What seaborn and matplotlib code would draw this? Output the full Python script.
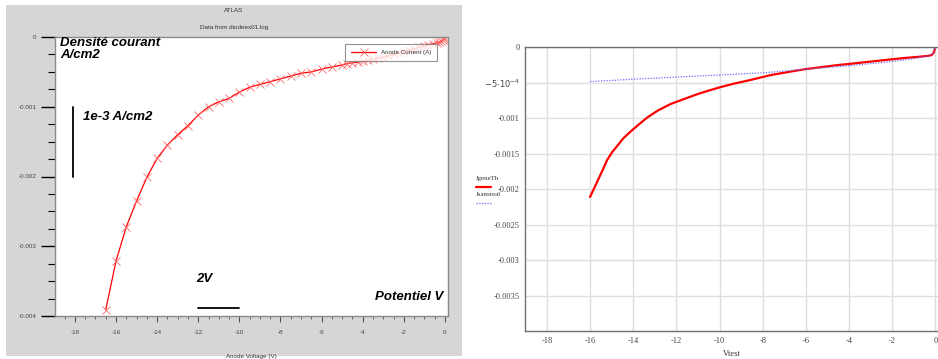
import numpy as np
import pandas as pd
import matplotlib
matplotlib.use("Agg")
import matplotlib.pyplot as plt
import seaborn as sns
from matplotlib.patches import Rectangle
from matplotlib.lines import Line2D
from matplotlib.ticker import MultipleLocator, FixedLocator, FixedFormatter

# left panel: ATLAS simulation, anode current vs anode voltage
atlas_v = [-16.5, -16.0, -15.5, -15.0, -14.5, -14.0, -13.5, -13.0, -12.5, -12.0,
           -11.5, -11.0, -10.5, -10.0, -9.5, -9.0, -8.5, -8.0, -7.5, -7.0,
           -6.5, -6.0, -5.5, -5.0, -4.75, -4.5, -4.25, -4.0, -3.75, -3.5,
           -3.25, -3.0, -2.75, -2.5, -2.25, -2.0, -1.75, -1.5, -1.25, -1.0,
           -0.8, -0.6, -0.4, -0.3, -0.2, -0.1, -0.05, 0.0]
atlas_i = [-0.00391, -0.00321, -0.00272, -0.00235, -0.00201, -0.00174, -0.00155, -0.00140, -0.00127, -0.00112,
           -0.00100, -0.00093, -0.00088, -0.00079, -0.00072, -0.00068, -0.00064, -0.00060, -0.00056, -0.00052,
           -0.00050, -0.00046, -0.00043, -0.00040, -0.00038, -0.00037, -0.00036, -0.00035, -0.00033, -0.00032,
           -0.00030, -0.00029, -0.00027, -0.00025, -0.00023, -0.00021, -0.00019, -0.00017, -0.00015, -0.00013,
           -0.00011, -0.00010, -0.00008, -0.00007, -0.00006, -0.00004, -0.00003, -0.00001]

# right panel: model curves
vtest = [-16.0, -15.8, -15.63, -15.4, -15.21, -14.98, -14.74, -14.45, -14.13, -13.75, -13.35, -12.85,
         -12.27, -11.65, -11.02, -10.5, -9.94, -9.3, -8.7, -8.15, -7.61, -6.85, -6.07, -5.3, -4.51,
         -3.7, -2.96, -2.2, -1.41, -0.8, -0.33, -0.18, -0.1, -0.05, -0.02, 0.0]
jgene_th = [-0.00211, -0.00198, -0.00187, -0.00172, -0.00159, -0.00148, -0.00139, -0.00128, -0.00119,
            -0.00109, -0.00099, -0.00089, -0.00080, -0.00073, -0.00066, -0.00061, -0.00056, -0.00051,
            -0.00047, -0.00043, -0.00039, -0.00035, -0.00031, -0.00028, -0.00025, -0.000225, -0.00020,
            -0.000175, -0.00015, -0.000135, -0.00012, -0.00011, -0.000085, -0.00005, -0.00001, 0.0]
vtest2 = [-16.0, -14.0, -12.0, -10.0, -8.0, -6.0, -4.0, -2.0, -1.0, -0.33, -0.1, -0.02, 0.0]
jsans = [-0.000484, -0.00045, -0.00042, -0.00039, -0.00036, -0.00031, -0.00026, -0.00020, -0.00016, -0.00012,
         -0.000085, -0.00001, 0.0]

left_df = pd.DataFrame({"v": atlas_v, "i": atlas_i})
right_df = pd.DataFrame({"v": vtest, "j": jgene_th})
right_df2 = pd.DataFrame({"v": vtest2, "j": jsans})

sns.set_style("white")
plt.rcParams['font.family'] = ['Liberation Sans', 'DejaVu Sans']
plt.rcParams['axes.unicode_minus'] = False

fig = plt.figure(figsize=(9.38, 3.59), dpi=100)
W, H = 938, 359

def fx(px):
    return px / W

def fy(py):
    return 1 - py / H

# gray window behind the left chart
fig.add_artist(Rectangle((fx(6), fy(356)), fx(456), (356 - 5) / H, transform=fig.transFigure,
                         facecolor="#d6d6d6", edgecolor="none", zorder=0))

# ---------------- left chart ----------------
ax1 = fig.add_axes([fx(55), fy(316), fx(448 - 55), (316 - 37) / H])
ax1.set_facecolor("white")
sns.lineplot(data=left_df, x="v", y="i", ax=ax1, color="red", lw=0.9, marker="x",
             markersize=5.5, markeredgecolor="#ff6a6a", markeredgewidth=0.6,
             label="Anode Current (A)", sort=False)
ax1.set_xlim(-18.97, 0.15)
ax1.set_ylim(-0.004, 0)
ax1.xaxis.set_major_locator(MultipleLocator(2))
ax1.xaxis.set_minor_locator(MultipleLocator(0.5))
ax1.yaxis.set_major_locator(MultipleLocator(0.001))
ax1.yaxis.set_minor_locator(MultipleLocator(0.00025))
ax1.yaxis.set_major_formatter(plt.FuncFormatter(lambda v, p: "0" if abs(v) < 1e-9 else f"{v:g}"))
ax1.tick_params(axis="y", which="major", length=10, width=1, color="black", labelsize=4.5,
                labelcolor="#444444", direction="out", left=True)
ax1.tick_params(axis="y", which="minor", length=5, width=0.8, color="black", left=True)
ax1.tick_params(axis="x", which="major", length=4, width=0.8, color="#555555", labelsize=4.5,
                labelcolor="#444444", direction="out", bottom=True, pad=6)
ax1.tick_params(axis="x", which="minor", length=2.5, width=0.6, color="#555555", bottom=True)
for s in ax1.spines.values():
    s.set_color("#8a8a8a")
    s.set_linewidth(1)
ax1.set_xlabel("Anode Voltage (V)", fontsize=4.5, color="#333333", labelpad=14)
ax1.set_ylabel("")
leg = ax1.legend(loc="upper right", bbox_to_anchor=(0.98, 0.985), fontsize=4.5, frameon=True,
                 fancybox=False, edgecolor="#777777", handlelength=4, borderpad=0.9, labelcolor="#333333")
leg.get_frame().set_linewidth(0.8)

fig.text(fx(234), fy(10), "ATLAS", fontsize=4.5, color="#333333", ha="center", va="center")
fig.text(fx(234), fy(27), "Data from diodeex01.log", fontsize=4.5, color="#333333", ha="center", va="center")

ann = dict(fontsize=9.5, fontweight="bold", fontstyle="italic", color="black")
fig.text(fx(60), fy(37), "Densité courant\nA/cm2", ha="left", va="top", linespacing=1.0, **ann)
fig.text(fx(83), fy(117), "1e-3 A/cm2", ha="left", va="center", **ann)
fig.text(fx(196), fy(279), "2V", ha="left", va="center", **ann)
fig.text(fx(443), fy(297), "Potentiel V", ha="right", va="center", **ann)
ax1.plot([-18.1, -18.1], [-0.001, -0.002], color="black", lw=1.3)
ax1.plot([-12, -10], [-0.00388, -0.00388], color="black", lw=1.3)

# ---------------- right chart ----------------
ax2 = fig.add_axes([fx(525.3), fy(331), fx(938 - 525.3), (331 - 47.3) / H])
sns.lineplot(data=right_df2, x="v", y="j", ax=ax2, color="#6a6aff", lw=0.9, linestyle=(0, (1, 1.2)),
             sort=False, zorder=3)
sns.lineplot(data=right_df, x="v", y="j", ax=ax2, color="red", lw=1.6, sort=False, zorder=2)
ax2.set_xlim(-19, 0.12)
ax2.set_ylim(-0.004, 0)
ax2.xaxis.set_major_locator(MultipleLocator(2))
yt = [0, -0.0005, -0.001, -0.0015, -0.002, -0.0025, -0.003, -0.0035]
ylab = ["0", r"$-5{\cdot}10^{-4}$", "-0.001", "-0.0015", "-0.002", "-0.0025", "-0.003", "-0.0035"]
ax2.yaxis.set_major_locator(FixedLocator(yt))
ax2.yaxis.set_major_formatter(FixedFormatter(ylab))
ax2.grid(True, color="#dedede", lw=1)
ax2.tick_params(length=0, labelsize=6, labelcolor="#444444", pad=4)
ax2.set_xticklabels([f"{int(v)}" for v in ax2.get_xticks()])
for lbl in ax2.get_xticklabels() + ax2.get_yticklabels():
    lbl.set_fontfamily(["Liberation Serif", "DejaVu Serif"])
for s in ["left", "bottom", "top"]:
    ax2.spines[s].set_color("#707070")
    ax2.spines[s].set_linewidth(1)
ax2.spines["right"].set_visible(False)
ax2.set_xlabel("Vtest", fontsize=6, color="#333333", fontfamily=["Liberation Serif", "DejaVu Serif"],
               labelpad=4)
ax2.set_ylabel("")

# legend at the left of the right chart
serif = ["Liberation Serif", "DejaVu Serif"]
fig.text(fx(476), fy(178), "JgeneTh", fontsize=5, color="#333333", fontfamily=serif, va="center")
fig.add_artist(Line2D([fx(476), fx(491)], [fy(186.5), fy(186.5)], color="red", lw=1.6,
                      transform=fig.transFigure))
fig.text(fx(476), fy(195), "Jsansreal", fontsize=5, color="#333333", fontfamily=serif, va="center")
fig.add_artist(Line2D([fx(476), fx(491)], [fy(202.5), fy(202.5)], color="#6a6aff", lw=0.9,
                      linestyle=(0, (1, 1.2)), transform=fig.transFigure))

fig.savefig("out.png", dpi=100)
